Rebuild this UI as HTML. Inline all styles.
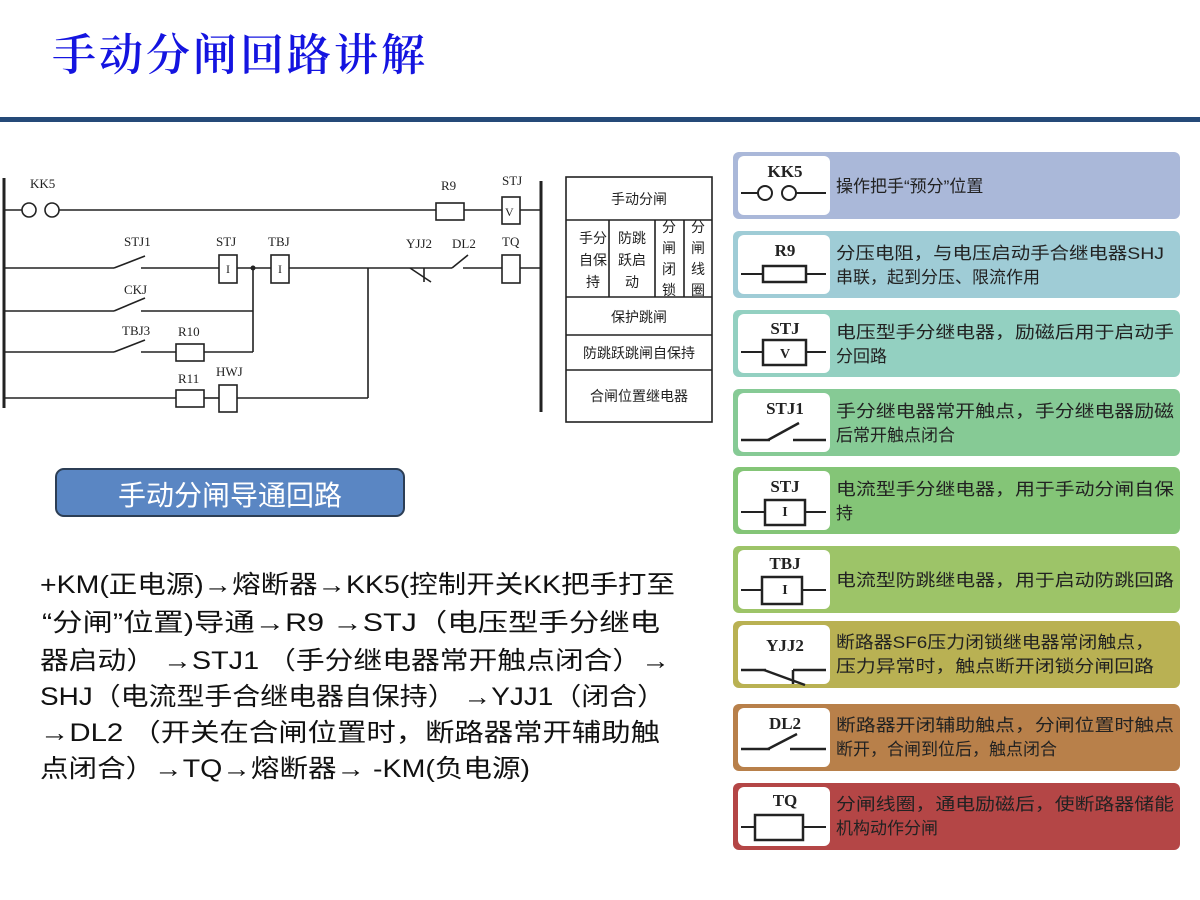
<!DOCTYPE html>
<html><head><meta charset="utf-8"><style>
html,body{margin:0;padding:0;background:#fff;}
svg{display:block;}
</style></head><body>
<svg width="1200" height="900" viewBox="0 0 1200 900" xmlns="http://www.w3.org/2000/svg">
<text x="52" y="70" font-family="'Liberation Serif','Noto Serif CJK SC',serif" font-size="44" font-weight="600" fill="#1414e0" textLength="373">手动分闸回路讲解</text>
<rect x="0" y="117" width="1200" height="5" fill="#254a78"/>

<g stroke="#222" stroke-width="1.6" fill="none">
<line x1="4" y1="178" x2="4" y2="408" stroke-width="3"/>
<line x1="541" y1="181" x2="541" y2="412" stroke-width="3"/>
<line x1="4" y1="210" x2="22" y2="210"/>
<circle cx="29" cy="210" r="7"/>
<circle cx="52" cy="210" r="7"/>
<line x1="59" y1="210" x2="436" y2="210"/>
<rect x="436" y="203" width="28" height="17"/>
<line x1="464" y1="210" x2="502" y2="210"/>
<rect x="502" y="197" width="18" height="27"/>
<line x1="520" y1="210" x2="541" y2="210"/>
<line x1="4" y1="268" x2="114" y2="268"/>
<line x1="114" y1="268" x2="145" y2="256"/>
<line x1="141" y1="268" x2="219" y2="268"/>
<rect x="219" y="255" width="18" height="28"/>
<line x1="237" y1="268" x2="271" y2="268"/>
<rect x="271" y="255" width="18" height="28"/>
<line x1="289" y1="268" x2="425" y2="268"/>
<line x1="410" y1="268" x2="431" y2="282"/>
<line x1="424" y1="268" x2="424" y2="282"/>
<line x1="425" y1="268" x2="452" y2="268"/>
<line x1="452" y1="268" x2="468" y2="255"/>
<line x1="463" y1="268" x2="502" y2="268"/>
<rect x="502" y="255" width="18" height="28"/>
<line x1="520" y1="268" x2="541" y2="268"/>
<line x1="368" y1="268" x2="368" y2="398"/>
<line x1="4" y1="311" x2="114" y2="311"/>
<line x1="114" y1="311" x2="145" y2="298"/>
<line x1="141" y1="311" x2="253" y2="311"/>
<line x1="253" y1="268" x2="253" y2="352"/>
<line x1="4" y1="352" x2="114" y2="352"/>
<line x1="114" y1="352" x2="145" y2="340"/>
<line x1="141" y1="352" x2="176" y2="352"/>
<rect x="176" y="344" width="28" height="17"/>
<line x1="204" y1="352" x2="253" y2="352"/>
<line x1="4" y1="398" x2="176" y2="398"/>
<rect x="176" y="390" width="28" height="17"/>
<line x1="204" y1="398" x2="219" y2="398"/>
<rect x="219" y="385" width="18" height="27"/>
<line x1="237" y1="398" x2="368" y2="398"/>
</g>
<circle cx="253" cy="268" r="2.5" fill="#222"/>
<g font-family="'Liberation Serif',serif" font-size="13" fill="#222">
<text x="30" y="188">KK5</text>
<text x="441" y="190">R9</text>
<text x="502" y="185">STJ</text>
<text x="505" y="216" font-size="12">V</text>
<text x="124" y="246">STJ1</text>
<text x="216" y="246">STJ</text>
<text x="268" y="246">TBJ</text>
<text x="226" y="273" font-size="12">I</text>
<text x="278" y="273" font-size="12">I</text>
<text x="406" y="248">YJJ2</text>
<text x="452" y="248">DL2</text>
<text x="502" y="246">TQ</text>
<text x="124" y="294">CKJ</text>
<text x="122" y="335">TBJ3</text>
<text x="178" y="336">R10</text>
<text x="178" y="383">R11</text>
<text x="216" y="376">HWJ</text>
</g>

<g stroke="#222" stroke-width="1.6" fill="none">
<rect x="566" y="177" width="146" height="245"/>
<line x1="566" y1="220" x2="712" y2="220"/>
<line x1="566" y1="297" x2="712" y2="297"/>
<line x1="566" y1="335" x2="712" y2="335"/>
<line x1="566" y1="370" x2="712" y2="370"/>
<line x1="609" y1="220" x2="609" y2="297"/>
<line x1="655" y1="220" x2="655" y2="297"/>
<line x1="684" y1="220" x2="684" y2="297"/>
</g>
<g font-family="'Liberation Sans','Noto Sans CJK SC',sans-serif" font-size="14" fill="#222" text-anchor="middle">
<text x="639" y="204">手动分闸</text>
<text x="593" y="243">手分</text><text x="593" y="265">自保</text><text x="593" y="287">持</text>
<text x="632" y="243">防跳</text><text x="632" y="265">跃启</text><text x="632" y="287">动</text>
<text x="669" y="232">分</text><text x="669" y="253">闸</text><text x="669" y="274">闭</text><text x="669" y="295">锁</text>
<text x="698" y="232">分</text><text x="698" y="253">闸</text><text x="698" y="274">线</text><text x="698" y="295">圈</text>
<text x="639" y="322">保护跳闸</text>
<text x="639" y="358">防跳跃跳闸自保持</text>
<text x="639" y="401">合闸位置继电器</text>
</g>

<rect x="56" y="469" width="348" height="47" rx="8" fill="#5a86c3" stroke="#2c3e55" stroke-width="2"/>
<text x="230" y="505" text-anchor="middle" font-family="'Liberation Sans','Noto Sans CJK SC',sans-serif" font-size="28" fill="#fff">手动分闸导通回路</text>

<g font-family="'Liberation Sans','Noto Sans CJK SC',sans-serif" font-size="25" fill="#111">
<text x="40" y="593" textLength="635" lengthAdjust="spacingAndGlyphs">+KM(正电源)→熔断器→KK5(控制开关KK把手打至</text>
<text x="42" y="631" textLength="618" lengthAdjust="spacingAndGlyphs">“分闸”位置)导通→R9 →STJ（电压型手分继电</text>
<text x="40" y="669" textLength="630" lengthAdjust="spacingAndGlyphs">器启动） →STJ1 （手分继电器常开触点闭合）→</text>
<text x="40" y="705" textLength="625" lengthAdjust="spacingAndGlyphs">SHJ（电流型手合继电器自保持） →YJJ1（闭合）</text>
<text x="40" y="741" textLength="620" lengthAdjust="spacingAndGlyphs">→DL2 （开关在合闸位置时，断路器常开辅助触</text>
<text x="40" y="777" textLength="490" lengthAdjust="spacingAndGlyphs">点闭合）→TQ→熔断器→ -KM(负电源)</text>
</g>

<g>
<rect x="733" y="152" width="447" height="67" rx="6" fill="#aab8d9"/>
<rect x="733" y="231" width="447" height="67" rx="6" fill="#9fccd6"/>
<rect x="733" y="310" width="447" height="67" rx="6" fill="#93d0c1"/>
<rect x="733" y="389" width="447" height="67" rx="6" fill="#86ca95"/>
<rect x="733" y="467" width="447" height="67" rx="6" fill="#84c577"/>
<rect x="733" y="546" width="447" height="67" rx="6" fill="#9dc468"/>
<rect x="733" y="621" width="447" height="67" rx="6" fill="#b9b153"/>
<rect x="733" y="704" width="447" height="67" rx="6" fill="#b8804a"/>
<rect x="733" y="783" width="447" height="67" rx="6" fill="#b44646"/>
</g>
<g fill="#fff">
<rect x="738" y="156" width="92" height="59" rx="6"/>
<rect x="738" y="235" width="92" height="59" rx="6"/>
<rect x="738" y="314" width="92" height="59" rx="6"/>
<rect x="738" y="393" width="92" height="59" rx="6"/>
<rect x="738" y="471" width="92" height="59" rx="6"/>
<rect x="738" y="550" width="92" height="59" rx="6"/>
<rect x="738" y="625" width="92" height="59" rx="6"/>
<rect x="738" y="708" width="92" height="59" rx="6"/>
<rect x="738" y="787" width="92" height="59" rx="6"/>
</g>
<g font-family="'Liberation Serif',serif" font-size="17" font-weight="bold" fill="#222" text-anchor="middle">
<text x="785" y="177">KK5</text>
<text x="785" y="256">R9</text>
<text x="785" y="334">STJ</text>
<text x="785" y="414">STJ1</text>
<text x="785" y="492">STJ</text>
<text x="785" y="569">TBJ</text>
<text x="785" y="651">YJJ2</text>
<text x="785" y="729">DL2</text>
<text x="785" y="806">TQ</text>
<text x="785" y="358" font-size="14">V</text>
<text x="785" y="516" font-size="14">I</text>
<text x="785" y="594" font-size="14">I</text>
</g>
<g stroke="#222" stroke-width="2" fill="none">
<line x1="741" y1="193" x2="758" y2="193"/><circle cx="765" cy="193" r="7"/><circle cx="789" cy="193" r="7"/><line x1="796" y1="193" x2="826" y2="193"/>
<line x1="741" y1="274" x2="763" y2="274"/><rect x="763" y="266" width="43" height="16" stroke-width="2.5"/><line x1="806" y1="274" x2="826" y2="274"/>
<line x1="741" y1="352" x2="763" y2="352"/><rect x="763" y="340" width="43" height="25" stroke-width="2.5"/><line x1="806" y1="352" x2="826" y2="352"/>
<line x1="741" y1="440" x2="770" y2="440" stroke-width="2.5"/><line x1="768" y1="440" x2="799" y2="423" stroke-width="2.5"/><line x1="793" y1="440" x2="826" y2="440" stroke-width="2.5"/>
<line x1="741" y1="512" x2="765" y2="512"/><rect x="765" y="500" width="40" height="25" stroke-width="2.5"/><line x1="805" y1="512" x2="826" y2="512"/>
<line x1="741" y1="590" x2="762" y2="590"/><rect x="762" y="577" width="40" height="27" stroke-width="2.5"/><line x1="802" y1="590" x2="826" y2="590"/>
<line x1="741" y1="670" x2="766" y2="670" stroke-width="2.5"/><line x1="764" y1="670" x2="805" y2="685" stroke-width="2.5"/><line x1="793" y1="670" x2="793" y2="684" stroke-width="2.5"/><line x1="793" y1="670" x2="826" y2="670" stroke-width="2.5"/>
<line x1="741" y1="749" x2="770" y2="749" stroke-width="2.5"/><line x1="768" y1="749" x2="797" y2="734" stroke-width="2.5"/><line x1="790" y1="749" x2="826" y2="749" stroke-width="2.5"/>
<line x1="741" y1="827" x2="755" y2="827"/><rect x="755" y="815" width="48" height="25" stroke-width="2.5"/><line x1="803" y1="827" x2="826" y2="827"/>
</g>
<g font-family="'Liberation Sans','Noto Sans CJK SC',sans-serif" font-size="17" fill="#222">
<text x="836" y="192">操作把手“预分”位置</text>
<text x="836" y="259" textLength="328" lengthAdjust="spacingAndGlyphs">分压电阻，与电压启动手合继电器SHJ</text>
<text x="836" y="283">串联，起到分压、限流作用</text>
<text x="836" y="338" textLength="338" lengthAdjust="spacingAndGlyphs">电压型手分继电器，励磁后用于启动手</text>
<text x="836" y="362">分回路</text>
<text x="836" y="417" textLength="338" lengthAdjust="spacingAndGlyphs">手分继电器常开触点，手分继电器励磁</text>
<text x="836" y="441">后常开触点闭合</text>
<text x="836" y="495" textLength="338" lengthAdjust="spacingAndGlyphs">电流型手分继电器，用于手动分闸自保</text>
<text x="836" y="519">持</text>
<text x="836" y="586" textLength="338" lengthAdjust="spacingAndGlyphs">电流型防跳继电器，用于启动防跳回路</text>
<text x="836" y="648" textLength="318" lengthAdjust="spacingAndGlyphs">断路器SF6压力闭锁继电器常闭触点，</text>
<text x="836" y="672" textLength="318" lengthAdjust="spacingAndGlyphs">压力异常时，触点断开闭锁分闸回路</text>
<text x="836" y="731" textLength="338" lengthAdjust="spacingAndGlyphs">断路器开闭辅助触点，分闸位置时触点</text>
<text x="836" y="755">断开，合闸到位后，触点闭合</text>
<text x="836" y="810" textLength="338" lengthAdjust="spacingAndGlyphs">分闸线圈，通电励磁后，使断路器储能</text>
<text x="836" y="834">机构动作分闸</text>
</g>
</svg>
</body></html>
